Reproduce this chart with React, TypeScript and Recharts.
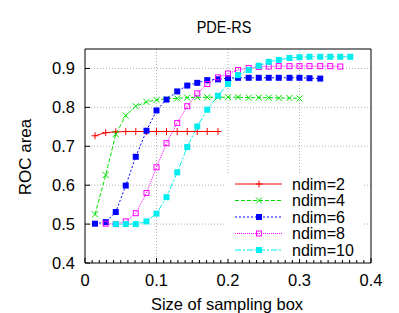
import React from "react";
import { LineChart, Line, XAxis, YAxis, ReferenceLine } from "recharts";

// box sizes (x)
const boxSizes = [
  0.014, 0.029, 0.043, 0.057, 0.071, 0.086, 0.1, 0.114, 0.129, 0.143, 0.157,
  0.171, 0.186, 0.2, 0.214, 0.229, 0.243, 0.257, 0.271, 0.286, 0.3, 0.314,
  0.329, 0.343, 0.357, 0.371,
];

const ndim2 = [
  0.727, 0.735, 0.737, 0.738, 0.738, 0.738, 0.738, 0.738, 0.738, 0.738, 0.738,
  0.738, 0.738,
];
const ndim4 = [
  0.525, 0.626, 0.731, 0.779, 0.803, 0.814, 0.819, 0.822, 0.823, 0.825, 0.826,
  0.826, 0.826, 0.826, 0.826, 0.825, 0.825, 0.825, 0.824, 0.824, 0.823,
];
const ndim6 = [
  0.501, 0.505, 0.531, 0.599, 0.673, 0.74, 0.792, 0.82, 0.841, 0.856, 0.863,
  0.87, 0.872, 0.875, 0.876, 0.876, 0.876, 0.876, 0.876, 0.876, 0.876, 0.875,
  0.874,
];
// starts at the 2nd box size
const ndim8 = [
  0.501, 0.5, 0.507, 0.528, 0.58, 0.646, 0.708, 0.76, 0.803, 0.836, 0.86,
  0.877, 0.887, 0.896, 0.901, 0.904, 0.905, 0.906, 0.906, 0.906, 0.906, 0.906,
  0.906, 0.905,
];
// starts at the 3rd box size
const ndim10 = [
  0.5, 0.5, 0.5, 0.507, 0.527, 0.569, 0.633, 0.698, 0.751, 0.794, 0.83, 0.86,
  0.883, 0.896, 0.907, 0.917, 0.922, 0.927, 0.929, 0.93, 0.93, 0.93, 0.93,
  0.93,
];

const xTicks = [0, 0.1, 0.2, 0.3, 0.4];
const yTicks = [0.4, 0.5, 0.6, 0.7, 0.8, 0.9];
const xMinorTicks = Array.from({ length: 41 }, (_, i) => i / 100);

const FONT = "'Liberation Sans', Arial, Helvetica, sans-serif";

type Shape = "plus" | "cross" | "fsquare" | "osquare";

const toPoints = (values: number[], start: number) =>
  values.map((y, i) => ({ x: boxSizes[start + i], y }));

const series = [
  { name: "ndim=2", data: toPoints(ndim2, 0), color: "#ff0000", dash: undefined, shape: "plus" as Shape },
  { name: "ndim=4", data: toPoints(ndim4, 0), color: "#00e000", dash: "4 2", shape: "cross" as Shape },
  { name: "ndim=6", data: toPoints(ndim6, 0), color: "#0000ff", dash: "2 2", shape: "fsquare" as Shape },
  { name: "ndim=8", data: toPoints(ndim8, 1), color: "#ff00ff", dash: "1 1", shape: "osquare" as Shape },
  { name: "ndim=10", data: toPoints(ndim10, 2), color: "#00eeee", dash: "6 2 2 2", shape: "fsquare" as Shape },
];

function Marker({ cx, cy, shape, color }: { cx: number; cy: number; shape: Shape; color: string }) {
  if (cx == null || cy == null) return null;
  const s = 3.5;
  if (shape === "plus")
    return (
      <path d={`M${cx - s},${cy}H${cx + s}M${cx},${cy - s}V${cy + s}`} stroke={color} strokeWidth={1} />
    );
  if (shape === "cross")
    return (
      <path
        d={`M${cx - 3},${cy - 3}L${cx + 3},${cy + 3}M${cx - 3},${cy + 3}L${cx + 3},${cy - 3}`}
        stroke={color}
        strokeWidth={1}
      />
    );
  if (shape === "fsquare")
    return <rect x={cx - 3} y={cy - 3} width={6} height={6} fill={color} />;
  return <rect x={cx - 2.5} y={cy - 2.5} width={5} height={5} fill="none" stroke={color} strokeWidth={1} />;
}

const isMajor = (v: number) => xTicks.some((t) => Math.abs(t - v) < 1e-6);

function BottomTick(props: any) {
  const { x, y, payload } = props;
  const major = isMajor(payload.value);
  return (
    <g>
      <line x1={x} x2={x} y1={y} y2={y - (major ? 5 : 3)} stroke="#000" />
      {major && (
        <text x={x} y={y + 23} textAnchor="middle" fontSize={16.5} fontFamily={FONT} fill="#000">
          {payload.value}
        </text>
      )}
    </g>
  );
}

function TopTick(props: any) {
  const { x, y, payload } = props;
  const major = isMajor(payload.value);
  return <line x1={x} x2={x} y1={y} y2={y + (major ? 5 : 3)} stroke="#000" />;
}

function LeftTick(props: any) {
  const { x, y, payload } = props;
  return (
    <g>
      <line x1={x} x2={x + 5} y1={y} y2={y} stroke="#000" />
      <text x={x - 10} y={y} dy="0.36em" textAnchor="end" fontSize={16.5} fontFamily={FONT} fill="#000">
        {payload.value}
      </text>
    </g>
  );
}

function RightTick(props: any) {
  const { x, y } = props;
  return <line x1={x} x2={x - 5} y1={y} y2={y} stroke="#000" />;
}

function Legend() {
  return (
    <svg
      width={138}
      height={84}
      style={{ position: "absolute", left: 226, top: 175, background: "#fff" }}
    >
      {series.map((s, i) => {
        const y = 9 + i * 16.5;
        return (
          <g key={s.name}>
            <line x1={9} x2={56} y1={y} y2={y} stroke={s.color} strokeDasharray={s.dash} />
            <Marker cx={33} cy={y} shape={s.shape} color={s.color} />
            <text x={66} y={y} dy="0.36em" fontSize={16} fontFamily={FONT} fill="#000">
              {s.name}
            </text>
          </g>
        );
      })}
    </svg>
  );
}

export default function App() {
  return (
    <div style={{ position: "absolute", left: 0, top: 0, width: 399, height: 313, background: "#fff", fontFamily: FONT }}>
      <div
        style={{
          position: "absolute",
          left: 124,
          width: 200,
          top: 18,
          textAlign: "center",
          fontSize: 17,
          lineHeight: "19px",
          transform: "scaleX(0.85)",
        }}
      >
        PDE-RS
      </div>
      <div style={{ position: "absolute", left: 0, width: 454, top: 295, textAlign: "center", fontSize: 16.5, lineHeight: "19px" }}>
        Size of sampling box
      </div>
      <div
        style={{
          position: "absolute",
          left: 26,
          top: 157,
          fontSize: 17,
          whiteSpace: "nowrap",
          transform: "translate(-50%, -50%) rotate(-90deg)",
        }}
      >
        ROC area
      </div>
      <LineChart width={399} height={313} margin={{ top: 48, right: 27, left: 40, bottom: 20 }}>
        <XAxis
          xAxisId="b"
          dataKey="x"
          type="number"
          domain={[0, 0.4]}
          ticks={xMinorTicks}
          interval={0}
          tickSize={0}
          tickMargin={0}
          tick={<BottomTick />}
          height={30}
          axisLine={{ stroke: "#000" }}
          tickLine={false}
        />
        <XAxis
          xAxisId="t"
          orientation="top"
          type="number"
          domain={[0, 0.4]}
          ticks={xMinorTicks}
          interval={0}
          tickSize={0}
          tickMargin={0}
          tick={<TopTick />}
          height={1}
          axisLine={{ stroke: "#000" }}
          tickLine={false}
        />
        <YAxis
          yAxisId="l"
          type="number"
          domain={[0.4, 0.95]}
          ticks={yTicks}
          interval={0}
          tickSize={0}
          tickMargin={0}
          tick={<LeftTick />}
          width={45}
          axisLine={{ stroke: "#000" }}
          tickLine={false}
        />
        <YAxis
          yAxisId="r"
          orientation="right"
          type="number"
          domain={[0.4, 0.95]}
          ticks={yTicks}
          interval={0}
          tickSize={0}
          tickMargin={0}
          tick={<RightTick />}
          width={1}
          axisLine={{ stroke: "#000" }}
          tickLine={false}
        />
        {[0.1, 0.2, 0.3].map((v) => (
          <ReferenceLine key={`gx${v}`} xAxisId="b" yAxisId="l" x={v} stroke="#b0b0b0" strokeDasharray="1 2" />
        ))}
        {[0.5, 0.6, 0.7, 0.8, 0.9].map((v) => (
          <ReferenceLine key={`gy${v}`} xAxisId="b" yAxisId="l" y={v} stroke="#b0b0b0" strokeDasharray="1 2" />
        ))}
        {series.map((s) => (
          <Line
            key={s.name}
            xAxisId="b"
            yAxisId="l"
            data={s.data}
            dataKey="y"
            name={s.name}
            stroke={s.color}
            strokeWidth={1}
            strokeDasharray={s.dash}
            isAnimationActive={false}
            dot={(p: any) => (
              <Marker key={`${s.name}-${p.index}`} cx={p.cx} cy={p.cy} shape={s.shape} color={s.color} />
            )}
            activeDot={false}
          />
        ))}
      </LineChart>
      <Legend />
    </div>
  );
}
